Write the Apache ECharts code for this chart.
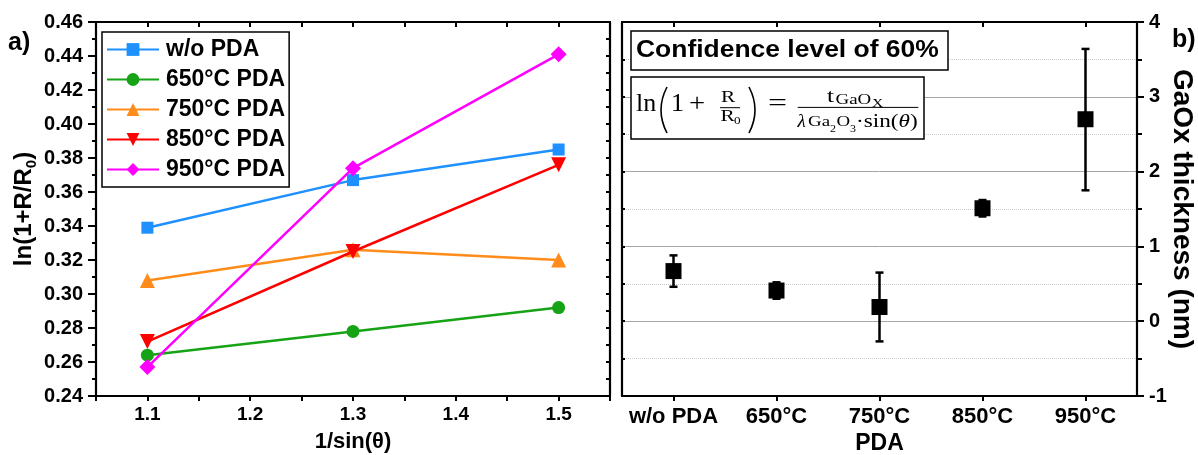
<!DOCTYPE html>
<html>
<head>
<meta charset="utf-8">
<script src="https://cdn.jsdelivr.net/npm/echarts@6/dist/echarts.min.js"></script>
<style>
html,body{margin:0;padding:0;background:#fff;}
#chart{width:1198px;height:455px;}
</style>
</head>
<body>
<div id="chart"></div>
<script>
// ---------- data ----------
const invSin = [1.1, 1.3, 1.5];
const seriesNames = ['w/o PDA', '650°C PDA', '750°C PDA', '850°C PDA', '950°C PDA'];
const lnWoPDA = [0.339, 0.367, 0.385];
const ln650 = [0.264, 0.278, 0.292];
const ln750 = [0.308, 0.326, 0.320];
const ln850 = [0.272, 0.325, 0.376];
const ln950 = [0.257, 0.374, 0.441];

const categories = ['w/o PDA', '650°C', '750°C', '850°C', '950°C'];
const thickness = [0.67, 0.41, 0.19, 1.51, 2.70];
const thickLow = [0.46, 0.30, -0.27, 1.40, 1.75];
const thickHigh = [0.88, 0.52, 0.65, 1.62, 3.64];

// ---------- styles ----------
const SANS = '"Liberation Sans", Arial, sans-serif';
const SERIF = '"Liberation Serif", "DejaVu Serif", serif';
const colors = ['#1e90ff', '#16a316', '#ff8c1a', '#ff0000', '#ff00ff'];
const symbols = ['rect', 'circle', 'triangle', 'triangle', 'diamond'];
const symbolSizes = [12, 13, 15, 15, 16];
const symbolRotates = [0, 0, 0, 180, 0];
const lnData = [lnWoPDA, ln650, ln750, ln850, ln950];

const axisLine = { show: true, onZero: false, lineStyle: { color: '#000', width: 2.2 } };

const chart = echarts.init(document.getElementById('chart'), null, { renderer: 'canvas' });

const lineSeries = seriesNames.map((name, i) => ({
  name: name,
  type: 'line',
  xAxisIndex: 0,
  yAxisIndex: 0,
  data: invSin.map((x, j) => [x, lnData[i][j]]),
  symbol: symbols[i],
  symbolSize: symbolSizes[i],
  symbolRotate: symbolRotates[i],
  lineStyle: { color: colors[i], width: 2.5 },
  itemStyle: { color: colors[i], opacity: 1 },
  z: 3 + i
}));

function eqText(text, x, baseline, fs, opts) {
  opts = opts || {};
  return {
    type: 'text',
    x: x,
    y: baseline - 0.34 * fs,
    scaleX: opts.scaleX || 1,
    z: 20,
    style: {
      text: text,
      fontSize: fs,
      fontFamily: SERIF,
      fontStyle: opts.italic ? 'italic' : 'normal',
      fill: '#000',
      align: 'left',
      verticalAlign: 'middle',
      rich: opts.rich
    }
  };
}

const option = {
  animation: false,
  backgroundColor: '#fff',
  grid: [
    { left: 96, right: 588, top: 22, bottom: 59, outerBoundsMode: 'none' },
    { left: 622, right: 61, top: 22, bottom: 59, outerBoundsMode: 'none' }
  ],
  legend: {
    data: seriesNames,
    orient: 'vertical',
    left: 102,
    top: 32,
    padding: [6, 4, 6, 4],
    itemWidth: 52,
    itemHeight: 16,
    itemGap: 7,
    borderColor: '#000',
    borderWidth: 1.5,
    backgroundColor: '#fff',
    textStyle: { fontFamily: SANS, fontWeight: 'bold', fontSize: 23, color: '#000', lineHeight: 22, padding: [0, 0, 0, 2] }
  },
  xAxis: [
    {
      type: 'value', gridIndex: 0, position: 'bottom',
      min: 1.05, max: 1.55, interval: 0.05,
      axisLine: axisLine,
      axisTick: { show: true, inside: false, length: 5, lineStyle: { width: 2, color: '#000' } },
      axisLabel: {
        margin: 9, color: '#000', fontFamily: SANS, fontWeight: 'bold', fontSize: 19,
        showMinLabel: true, showMaxLabel: true,
        formatter: function (v) { const k = Math.round(v * 100); return k % 10 === 0 ? (k / 100).toFixed(1) : ''; }
      },
      splitLine: { show: false },
      name: '1/sin(θ)', nameLocation: 'middle', nameGap: 34, nameMoveOverlap: false,
      nameTextStyle: { fontFamily: SANS, fontWeight: 'bold', fontSize: 22, color: '#000', lineHeight: 24 }
    },
    {
      type: 'value', gridIndex: 0, position: 'top',
      min: 1.05, max: 1.55, interval: 0.05,
      axisLine: axisLine,
      axisTick: { show: true, inside: true, length: 5, lineStyle: { width: 2, color: '#000' } },
      axisLabel: { show: false },
      splitLine: { show: false }
    },
    {
      type: 'category', gridIndex: 1, position: 'bottom', data: categories,
      boundaryGap: true,
      axisLine: axisLine,
      axisTick: { show: true, alignWithLabel: true, inside: false, length: 5, lineStyle: { width: 2, color: '#000' } },
      axisLabel: { margin: 10, color: '#000', fontFamily: SANS, fontWeight: 'bold', fontSize: 22, interval: 0 },
      splitLine: { show: false },
      name: 'PDA', nameLocation: 'middle', nameGap: 36, nameMoveOverlap: false,
      nameTextStyle: { fontFamily: SANS, fontWeight: 'bold', fontSize: 23, color: '#000', lineHeight: 24 }
    },
    {
      type: 'category', gridIndex: 1, position: 'top', data: categories,
      boundaryGap: true,
      axisLine: axisLine,
      axisTick: { show: true, alignWithLabel: true, inside: true, length: 5, lineStyle: { width: 2, color: '#000' } },
      axisLabel: { show: false },
      splitLine: { show: false }
    }
  ],
  yAxis: [
    {
      type: 'value', gridIndex: 0, position: 'left',
      min: 0.24, max: 0.46, interval: 0.02,
      axisLine: axisLine,
      axisTick: { show: true, inside: false, length: 8, lineStyle: { width: 2, color: '#000' } },
      minorTick: { show: true, splitNumber: 2, length: 4, lineStyle: { width: 2, color: '#000' } },
      axisLabel: { margin: 13, color: '#000', fontFamily: SANS, fontWeight: 'bold', fontSize: 20, formatter: v => v.toFixed(2) },
      splitLine: { show: false },
      name: 'ln(1+R/R{s|0})', nameLocation: 'middle', nameGap: 57, nameMoveOverlap: false,
      nameTextStyle: {
        fontFamily: SANS, fontWeight: 'bold', fontSize: 24, color: '#000', lineHeight: 30,
        rich: { s: { fontFamily: SANS, fontWeight: 'bold', fontSize: 15, color: '#000', lineHeight: 16, verticalAlign: 'bottom' } }
      }
    },
    {
      type: 'value', gridIndex: 0, position: 'right',
      min: 0.24, max: 0.46, interval: 0.01,
      axisLine: axisLine,
      axisTick: { show: true, inside: true, length: 4, lineStyle: { width: 2, color: '#000' } },
      axisLabel: { show: false },
      splitLine: { show: false }
    },
    {
      type: 'value', gridIndex: 1, position: 'right',
      min: -1, max: 4, interval: 1,
      axisLine: axisLine,
      axisTick: { show: true, inside: false, length: 7, lineStyle: { width: 2, color: '#000' } },
      minorTick: { show: true, splitNumber: 2, length: 5, lineStyle: { width: 2, color: '#000' } },
      axisLabel: { margin: 12, color: '#000', fontFamily: SANS, fontWeight: 'bold', fontSize: 20 },
      splitLine: { show: true, lineStyle: { color: '#a6a6a6', width: 1, type: 'solid' } },
      minorSplitLine: { show: true, lineStyle: { color: '#c8c8c8', width: 1, type: 'dotted' } },
      name: 'GaOx thickness (nm)', nameLocation: 'middle', nameRotate: -90, nameGap: 30, nameMoveOverlap: false,
      nameTextStyle: { fontFamily: SANS, fontWeight: 'bold', fontSize: 28, color: '#000', lineHeight: 30 }
    },
    {
      type: 'value', gridIndex: 1, position: 'left',
      min: -1, max: 4, interval: 0.5,
      axisLine: axisLine,
      axisTick: { show: true, inside: true, length: 3, lineStyle: { width: 2, color: '#000' } },
      axisLabel: { show: false },
      splitLine: { show: false }
    }
  ],
  series: lineSeries.concat([
    {
      name: 'error',
      type: 'custom',
      xAxisIndex: 2,
      yAxisIndex: 2,
      data: categories.map((c, i) => [i, thickLow[i], thickHigh[i]]),
      encode: { x: 0, y: [1, 2] },
      renderItem: function (params, api) {
        const lo = api.coord([api.value(0), api.value(1)]);
        const hi = api.coord([api.value(0), api.value(2)]);
        const cap = 4;
        const st = { stroke: '#000', lineWidth: 2.5 };
        return {
          type: 'group',
          children: [
            { type: 'line', shape: { x1: lo[0], y1: lo[1], x2: hi[0], y2: hi[1] }, style: st },
            { type: 'line', shape: { x1: lo[0] - cap, y1: lo[1], x2: lo[0] + cap, y2: lo[1] }, style: st },
            { type: 'line', shape: { x1: hi[0] - cap, y1: hi[1], x2: hi[0] + cap, y2: hi[1] }, style: st }
          ]
        };
      },
      z: 4
    },
    {
      name: 'GaOx thickness',
      type: 'scatter',
      xAxisIndex: 2,
      yAxisIndex: 2,
      data: thickness,
      symbol: 'rect',
      symbolSize: 16,
      itemStyle: { color: '#000', opacity: 1 },
      z: 5
    }
  ]),
  graphic: [
    { type: 'text', x: 8, y: 43, z: 20, style: { text: 'a)', fontFamily: SANS, fontWeight: 'bold', fontSize: 25, fill: '#000', align: 'left', verticalAlign: 'middle' } },
    { type: 'text', x: 1172, y: 40, z: 20, style: { text: 'b)', fontFamily: SANS, fontWeight: 'bold', fontSize: 25, fill: '#000', align: 'left', verticalAlign: 'middle' } },
    // confidence box
    { type: 'rect', z: 19, shape: { x: 631, y: 31, width: 317, height: 39 }, style: { fill: '#fff', stroke: '#000', lineWidth: 1.5 } },
    { type: 'text', x: 636, y: 51, scaleX: 1.15, z: 20, style: { text: 'Confidence level of 60%', fontFamily: SANS, fontWeight: 'bold', fontSize: 23, fill: '#000', align: 'left', verticalAlign: 'middle' } },
    // equation box
    { type: 'rect', z: 19, shape: { x: 631, y: 77, width: 293, height: 62 }, style: { fill: '#fff', stroke: '#000', lineWidth: 1.5 } },
    eqText('ln', 636, 113, 26),
    { type: 'bezierCurve', z: 20, shape: { x1: 667, y1: 87, x2: 667, y2: 133, cpx1: 655, cpy1: 110 }, style: { stroke: '#000', lineWidth: 1.6, fill: null } },
    eqText('1', 671, 113, 26),
    eqText('+', 689, 113, 26, { scaleX: 1.1 }),
    eqText('R', 721, 103.5, 17, { scaleX: 1.25 }),
    { type: 'line', z: 20, shape: { x1: 720, y1: 107.7, x2: 740, y2: 107.7 }, style: { stroke: '#000', lineWidth: 1 } },
    eqText('R', 720.5, 122, 17, { scaleX: 1.25 }),
    eqText('0', 734, 124.5, 11, { scaleX: 1.2 }),
    { type: 'bezierCurve', z: 20, shape: { x1: 749, y1: 87, x2: 749, y2: 133, cpx1: 761, cpy1: 110 }, style: { stroke: '#000', lineWidth: 1.6, fill: null } },
    eqText('=', 768, 113, 26, { scaleX: 1.3 }),
    { type: 'line', z: 20, shape: { x1: 797.7, y1: 107.4, x2: 918.3, y2: 107.4 }, style: { stroke: '#000', lineWidth: 1 } },
    eqText('t', 827, 103.3, 18, { scaleX: 1.4 }),
    eqText('GaO', 835.5, 104.8, 14, { scaleX: 1.35 }),
    eqText('X', 872, 107.5, 12, { scaleX: 1.3 }),
    eqText('λ', 797.5, 128.5, 19, { italic: true }),
    eqText('Ga', 808, 127.5, 14, { scaleX: 1.35 }),
    eqText('2', 830, 133, 10, { scaleX: 1.2 }),
    eqText('O', 836.5, 127.5, 14, { scaleX: 1.35 }),
    eqText('3', 850, 133, 10, { scaleX: 1.2 }),
    eqText('·sin({i|θ})', 856, 128.3, 19, { scaleX: 1.22, rich: { i: { fontStyle: 'italic', fontSize: 19, fontFamily: SERIF, fill: '#000' } } })
  ]
};

chart.setOption(option);
</script>
</body>
</html>
